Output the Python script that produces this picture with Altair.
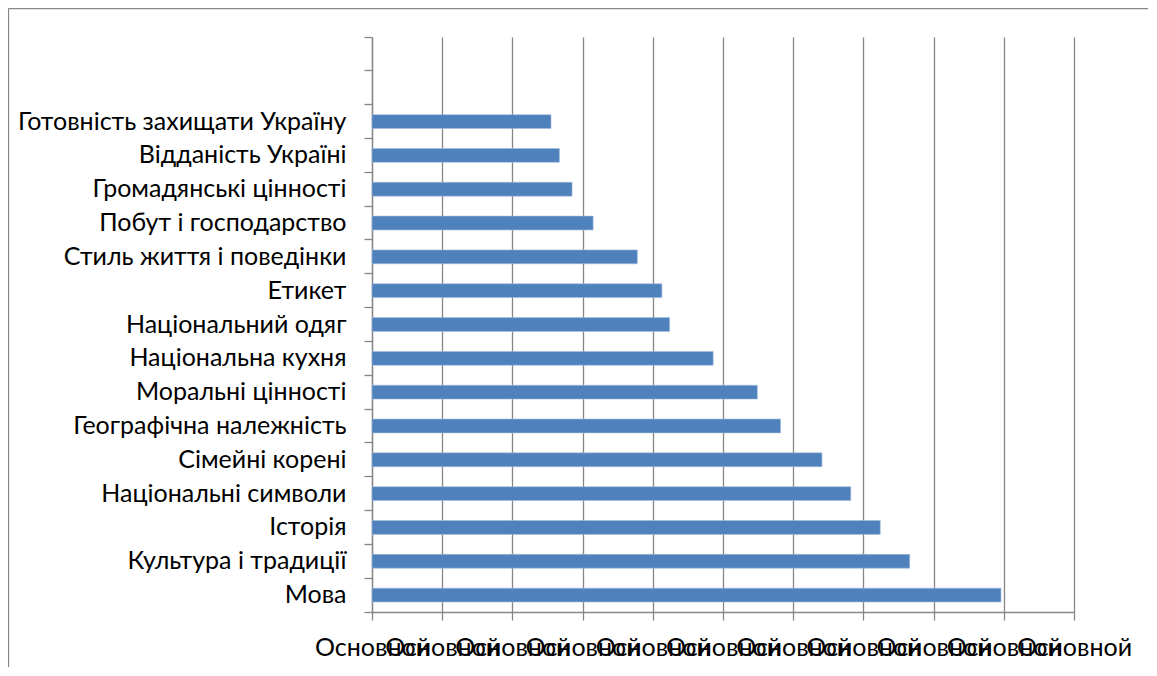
import altair as alt
import pandas as pd

categories = [
    "Готовність захищати Україну",
    "Відданість Україні",
    "Громадянські цінності",
    "Побут і господарство",
    "Стиль життя і поведінки",
    "Етикет",
    "Національний одяг",
    "Національна кухня",
    "Моральні цінності",
    "Географічна належність",
    "Сімейні корені",
    "Національні символи",
    "Історія\u00a0",
    "Культура і традиції",
    "Мова",
]
values = [25.5, 26.7, 28.5, 31.5, 37.8, 41.3, 42.4, 48.6, 54.9, 58.2, 64.1, 68.2, 72.4, 76.6, 89.6]
empty_slots = [" ", "  "]
x_ticks = [0, 10, 20, 30, 40, 50, 60, 70, 80, 90, 100]
x_tick_label = "Основной"

FONT = "Lato"
FS = 25
GRAY = "#868686"
W, H = 702, 575
PAD = {"left": 364, "top": 29, "right": 74, "bottom": 55}

df = pd.DataFrame({"cat": categories, "val": values})
domain = empty_slots + categories

bars = alt.Chart(df).mark_bar(
    color="#4F81BD", stroke="#A4BCDD", strokeWidth=0.6,
    height=alt.RelativeBandSize(0.41),
).encode(
    x=alt.X(
        "val:Q",
        scale=alt.Scale(domain=[0, 100], nice=False, zero=True),
        axis=alt.Axis(
            values=x_ticks, labelExpr=f"'{x_tick_label}'", title=None,
            grid=True, gridColor=GRAY, gridWidth=1.3, gridOpacity=1,
            domainColor=GRAY, domainWidth=1.3, tickColor=GRAY, tickWidth=1.3, tickSize=8,
            labelFont=FONT, labelFontSize=FS, labelColor="black", labelPadding=15,
            labelOverlap=False, labelFlush=False,
        ),
    ),
    y=alt.Y(
        "cat:N", sort=domain,
        scale=alt.Scale(domain=domain, paddingInner=0, paddingOuter=0),
        axis=alt.Axis(
            title=None, bandPosition=1, tickExtra=True, grid=False,
            domainColor=GRAY, domainWidth=1.3, tickColor=GRAY, tickWidth=1.3, tickSize=8,
            labelFont=FONT, labelFontSize=FS, labelColor="black", labelPadding=18,
            labelLimit=0,
        ),
    ),
)

frame_df = pd.DataFrame({"k": [0]})
left_edge = alt.Chart(frame_df).mark_rule(color=GRAY, strokeWidth=1.3).encode(
    x=alt.value(-363.5), y=alt.value(-28.5), y2=alt.value(H + PAD["bottom"])
)
top_edge = alt.Chart(frame_df).mark_rule(color=GRAY, strokeWidth=1.3).encode(
    y=alt.value(-28.5), x=alt.value(-363.5), x2=alt.value(W + PAD["right"])
)

chart = alt.layer(bars, left_edge, top_edge).properties(
    width=W, height=H,
    autosize=alt.AutoSizeParams(type="none"),
    padding=PAD,
).configure_view(stroke=None)

chart.save("out.html", embed_options={"renderer": "svg", "actions": False})
